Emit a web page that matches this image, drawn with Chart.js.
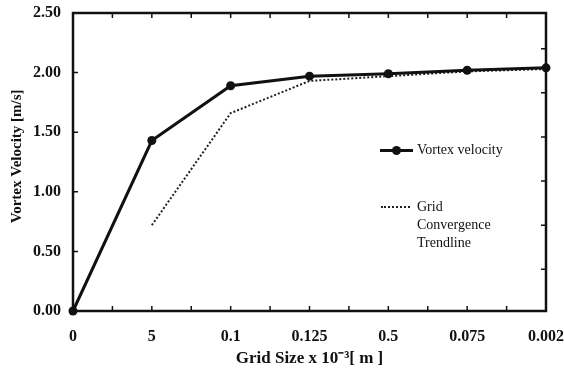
<!DOCTYPE html>
<html>
<head>
<meta charset="utf-8">
<script src="https://cdn.jsdelivr.net/npm/chart.js@4/dist/chart.umd.min.js"></script>
<style>
  html, body { margin: 0; padding: 0; background: #fff; }
  #wrap { position: relative; width: 564px; height: 382px; }
  .legend { position: absolute; font-family: "Liberation Serif", serif; font-size: 14px; color: #111; line-height: 18px; }
  .swatch { position: absolute; }
</style>
</head>
<body>
<div id="wrap">
  <canvas id="chart" width="564" height="382"></canvas>
  <div class="swatch" style="left:380px; top:149px; width:33px; border-top:3px solid #111;"></div>
  <div class="swatch" style="left:392px; top:146px; width:9px; height:9px; border-radius:50%; background:#111;"></div>
  <div class="legend" style="left:417px; top:141px;">Vortex velocity</div>
  <div class="swatch" style="left:381px; top:206px; width:29px; border-top:2px dotted #222;"></div>
  <div class="legend" style="left:417px; top:198px;">Grid<br>Convergence<br>Trendline</div>
</div>
<script>
const gridSizes = ["0", "5", "0.1", "0.125", "0.5", "0.075", "0.002"];
const vortexVelocity = [0, 1.43, 1.89, 1.97, 1.99, 2.02, 2.04];
const trendline = [null, 0.72, 1.66, 1.93, 1.97, 2.01, 2.03];
const yTicks = [0, 0.5, 1.0, 1.5, 2.0, 2.5];
const rightTicks = [0.35, 0.72, 1.09, 1.46, 1.83, 2.2];

const serif = "'Liberation Serif', 'Times New Roman', serif";

// frame with inward tick marks, like the original plot
const framePlugin = {
    id: "frame",
    afterDatasetsDraw(chart) {
        const { ctx, chartArea: a, scales: { x, y } } = chart;
        const len = 5;
        ctx.save();
        ctx.strokeStyle = "#111";
        ctx.lineWidth = 1.5;
        ctx.beginPath();
        for (let i = 0; i < gridSizes.length; i++) {
            const px = x.getPixelForValue(i);
            ctx.moveTo(px, a.bottom); ctx.lineTo(px, a.bottom - len);
            ctx.moveTo(px, a.top); ctx.lineTo(px, a.top + len);
            if (i < gridSizes.length - 1) {
                const mid = (px + x.getPixelForValue(i + 1)) / 2;
                ctx.moveTo(mid, a.bottom); ctx.lineTo(mid, a.bottom - len);
                ctx.moveTo(mid, a.top); ctx.lineTo(mid, a.top + len);
            }
        }
        yTicks.forEach(v => {
            const py = y.getPixelForValue(v);
            ctx.moveTo(a.left, py); ctx.lineTo(a.left + len, py);
        });
        rightTicks.forEach(v => {
            const py = y.getPixelForValue(v);
            ctx.moveTo(a.right, py); ctx.lineTo(a.right - len, py);
        });
        ctx.stroke();
        ctx.lineWidth = 2.5;
        ctx.strokeRect(a.left, a.top, a.right - a.left, a.bottom - a.top);
        ctx.restore();
    }
};

new Chart(document.getElementById("chart"), {
    type: "line",
    data: {
        labels: gridSizes,
        datasets: [
            {
                label: "Vortex velocity",
                data: vortexVelocity,
                borderColor: "#111",
                backgroundColor: "#111",
                borderWidth: 3,
                pointRadius: 4.5,
                pointBorderWidth: 0,
                tension: 0,
                clip: false,
                order: 1
            },
            {
                label: "Grid Convergence Trendline",
                data: trendline,
                borderColor: "#222",
                borderWidth: 2,
                borderDash: [2, 2],
                pointRadius: 0,
                tension: 0,
                clip: false,
                order: 2
            }
        ]
    },
    options: {
        responsive: false,
        animation: false,
        layout: { padding: { left: 0, right: 18, top: 13, bottom: 0 } },
        plugins: { legend: { display: false }, tooltip: { enabled: false } },
        scales: {
            x: {
                grid: { display: false },
                border: { display: false },
                ticks: { color: "#111", font: { family: serif, size: 16, weight: "bold" }, padding: 8, maxRotation: 0 },
                title: { display: true, text: "Grid Size x 10\u207B\u00B3[ m ]", color: "#111", font: { family: serif, size: 17, weight: "bold" }, padding: { top: 0, bottom: 13 } },
                afterFit: s => { s.height = 71; s.paddingLeft = 0; s.paddingRight = 0; }
            },
            y: {
                min: 0, max: 2.5,
                grid: { display: false },
                border: { display: false },
                afterBuildTicks: s => { s.ticks = yTicks.map(v => ({ value: v })); },
                ticks: { color: "#111", font: { family: serif, size: 16, weight: "bold" }, padding: 4, callback: v => v.toFixed(2) },
                title: { display: true, text: "   Vortex Velocity [m/s]", color: "#111", font: { family: serif, size: 15, weight: "bold" }, padding: { top: 8, bottom: 0 } },
                afterFit: s => { s.width = 73; s.paddingTop = 0; s.paddingBottom = 0; }
            }
        }
    },
    plugins: [framePlugin]
});
</script>
</body>
</html>
